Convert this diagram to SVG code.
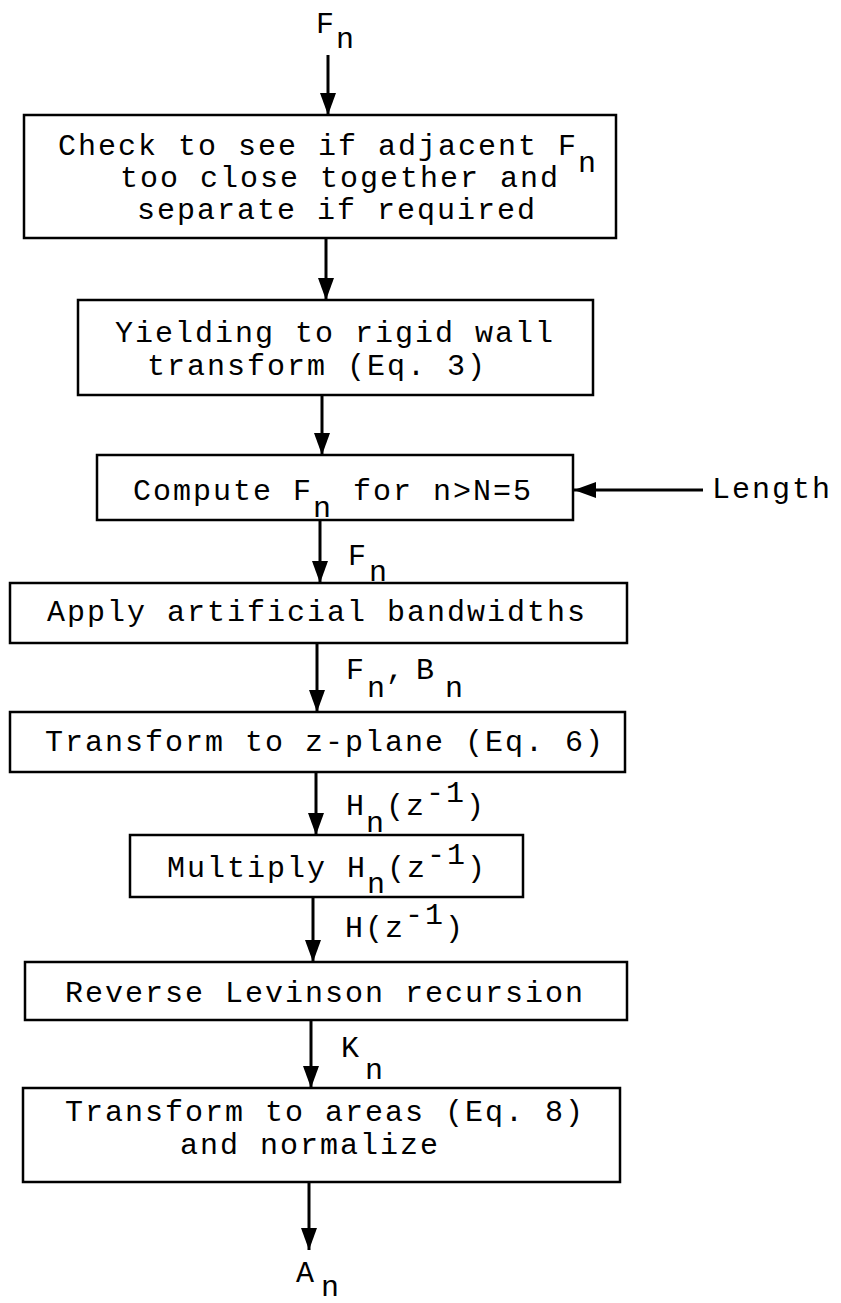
<svg xmlns="http://www.w3.org/2000/svg" width="841" height="1303" viewBox="0 0 841 1303">
<style>
.box{fill:none;stroke:#000;stroke-width:2.5}
.t{font-family:"Liberation Mono",monospace;font-size:30px;letter-spacing:2px;fill:#000}
.c{stroke:#000;stroke-width:3;fill:none}
</style>
<defs>
<marker id="ah" markerUnits="userSpaceOnUse" markerWidth="24" markerHeight="18" refX="22" refY="8" orient="auto">
<path d="M0,0 L22,8 L0,16 z" fill="#000"/>
</marker>
</defs>
<rect width="841" height="1303" fill="#fff"/>
<g id="connectors">
<line class="c" x1="328" y1="55" x2="328" y2="115" marker-end="url(#ah)"/>
<line class="c" x1="326" y1="238" x2="326" y2="300" marker-end="url(#ah)"/>
<line class="c" x1="322" y1="395" x2="322" y2="455" marker-end="url(#ah)"/>
<line class="c" x1="320" y1="520" x2="320" y2="583" marker-end="url(#ah)"/>
<line class="c" x1="317" y1="643" x2="317" y2="712" marker-end="url(#ah)"/>
<line class="c" x1="316" y1="772" x2="316" y2="835" marker-end="url(#ah)"/>
<line class="c" x1="313" y1="897" x2="313" y2="962" marker-end="url(#ah)"/>
<line class="c" x1="311" y1="1020" x2="311" y2="1088" marker-end="url(#ah)"/>
<line class="c" x1="309" y1="1182" x2="309" y2="1250" marker-end="url(#ah)"/>
<line class="c" x1="703" y1="490" x2="574" y2="490" marker-end="url(#ah)"/>
<text class="t" x="316" y="33">F<tspan x="336" y="48">n</tspan></text>
<text class="t" x="348" y="565">F<tspan x="369" y="581">n</tspan></text>
<text class="t" x="346" y="679">F<tspan x="367" y="697">n</tspan><tspan x="386" y="679">,</tspan><tspan x="416" y="679">B</tspan><tspan x="445" y="697">n</tspan></text>
<text class="t" x="346" y="815">H<tspan dy="17">n</tspan><tspan dy="-17">(z</tspan><tspan dy="-13">-1</tspan><tspan dy="13">)</tspan></text>
<text class="t" x="345" y="937">H(z<tspan dy="-13">-1</tspan><tspan dy="13">)</tspan></text>
<text class="t" x="341" y="1057">K<tspan x="365" y="1079">n</tspan></text>
<text class="t" x="296" y="1282">A<tspan x="321" y="1296">n</tspan></text>
<text class="t" x="712" y="498">Length</text>
</g>
<g id="n1">
<rect class="box" x="24" y="115" width="592" height="123"/>
<text class="t" x="58" y="155">Check to see if adjacent F<tspan dy="17">n</tspan></text>
<text class="t" x="120" y="187">too close together and</text>
<text class="t" x="137" y="219">separate if required</text>
</g>
<g id="n2">
<rect class="box" x="78" y="300" width="515" height="95"/>
<text class="t" x="115" y="342">Yielding to rigid wall</text>
<text class="t" x="147" y="375">transform (Eq. 3)</text>
</g>
<g id="n3">
<rect class="box" x="97" y="455" width="476" height="65"/>
<text class="t" x="133" y="500">Compute F<tspan dy="17">n</tspan><tspan dy="-17"> for n&gt;N=5</tspan></text>
</g>
<g id="n4">
<rect class="box" x="10" y="583" width="617" height="60"/>
<text class="t" x="47" y="621">Apply artificial bandwidths</text>
</g>
<g id="n5">
<rect class="box" x="10" y="712" width="615" height="60"/>
<text class="t" x="45" y="751">Transform to z-plane (Eq. 6)</text>
</g>
<g id="n6">
<rect class="box" x="130" y="835" width="393" height="62"/>
<text class="t" x="167" y="877">Multiply H<tspan dy="16">n</tspan><tspan dy="-16">(z</tspan><tspan dy="-13">-1</tspan><tspan dy="13">)</tspan></text>
</g>
<g id="n7">
<rect class="box" x="25" y="962" width="602" height="58"/>
<text class="t" x="65" y="1002">Reverse Levinson recursion</text>
</g>
<g id="n8">
<rect class="box" x="23" y="1088" width="597" height="94"/>
<text class="t" x="65" y="1121">Transform to areas (Eq. 8)</text>
<text class="t" x="180" y="1154">and normalize</text>
</g>
</svg>
